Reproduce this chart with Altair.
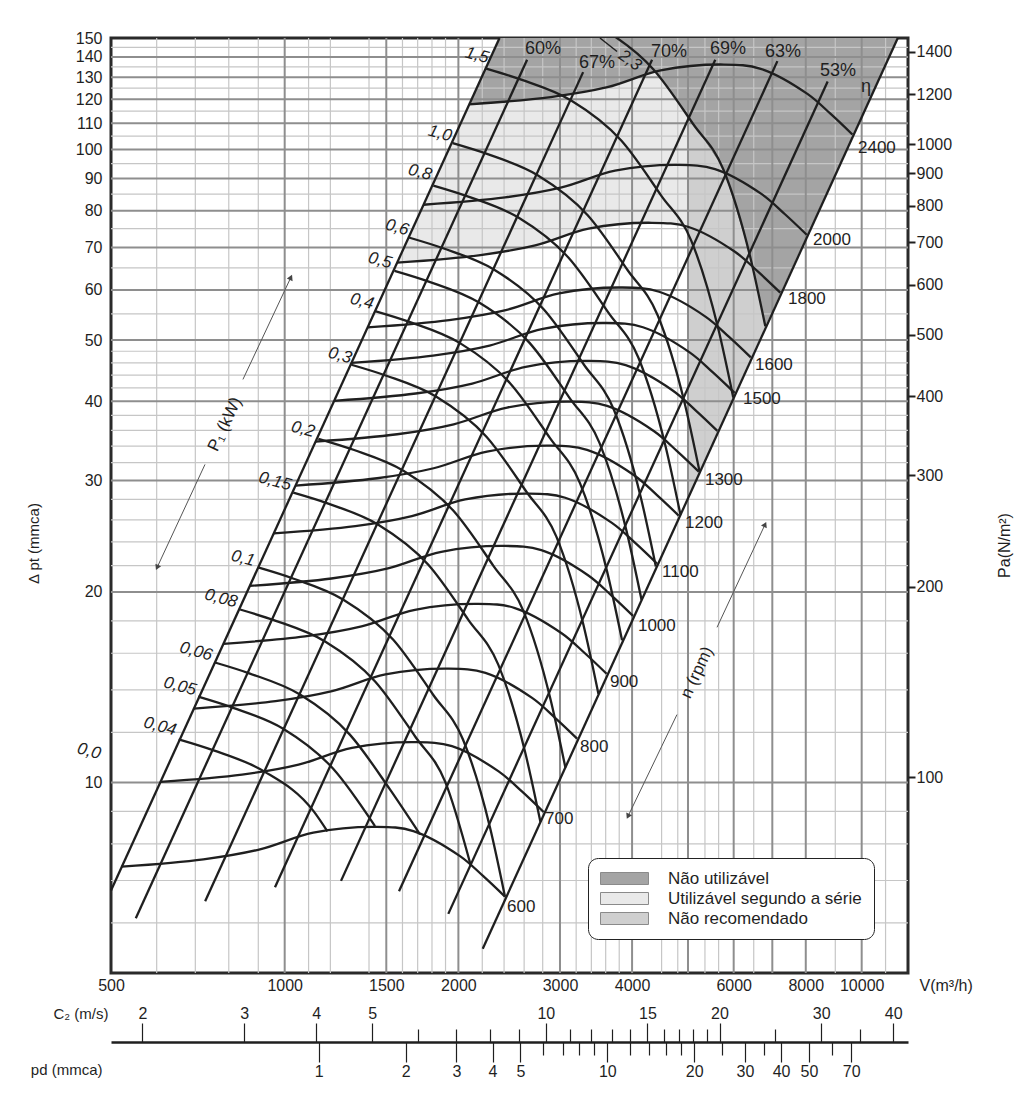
import altair as alt
import pandas as pd

FONT = "Liberation Sans"
INK = "#1f1f1f"

# ---------------- axes ----------------
V_DOMAIN = [500, 12030]
P_DOMAIN = [5, 150]
PA_DOMAIN = [49.05, 1471.5]
C2_DOMAIN = [1.764, 42.43]
PD_DOMAIN = [0.1904, 110.2]

X_LABELS = [500, 1000, 1500, 2000, 3000, 4000, 6000, 8000, 10000]
Y_LABELS = [10, 20, 30, 40, 50, 60, 70, 80, 90, 100, 110, 120, 130, 140, 150]
PA_LABELS = [100, 200, 300, 400, 500, 600, 700, 800, 900, 1000, 1200, 1400]
C2_MAJOR = [2, 3, 4, 5, 10, 15, 20, 30, 40]
C2_MINOR = [6, 7, 8, 9, 11, 12, 13, 14, 16, 17, 18, 19, 25, 35]
PD_MAJOR = [1, 2, 3, 4, 5, 10, 20, 30, 40, 50, 70]
PD_MINOR = [6, 7, 8, 9, 12, 14, 16, 18, 25, 35, 60]

GRID_V_MAJOR = [1000, 1500, 2000, 3000, 4000, 5000, 6000, 7000, 8000, 10000]
GRID_V_MINOR = [600, 700, 800, 900, 1100, 1200, 1400, 1600, 1700, 1800, 1900,
                2200, 2400, 2600, 2800, 3200, 3400, 3600, 3800, 4500, 4800,
                5350, 5650, 6500, 9000, 11000]
GRID_P_MAJOR = [10, 20, 30, 40, 50, 60, 70, 80, 90, 100, 110, 120, 130, 140]
GRID_P_MINOR = [6, 7, 8, 9, 12, 14, 16, 18, 22, 24, 26, 28, 32, 34, 36, 38,
                42, 44, 46, 48, 55, 65, 75, 85, 95, 105, 115, 125, 135, 145]

# ---------------- fan speed curves n (rpm): V [m3/h], P [mmca] ----------------
N600_V = [522, 723, 906, 1121, 1443, 1671, 2013, 2209, 2409]
N600_P = [7.36, 7.56, 7.84, 8.33, 8.51, 8.38, 7.65, 7.11, 6.60]
N700_V = [609, 843.5, 1057, 1308, 1683.5, 1949.5, 2348.5, 2577, 2810.5]
N700_P = [10.02, 10.29, 10.67, 11.34, 11.58, 11.41, 10.41, 9.68, 8.98]
N800_V = [696, 964, 1208, 1495, 1924, 2228, 2684, 2945, 3212]
N800_P = [13.08, 13.44, 13.94, 14.81, 15.13, 14.90, 13.60, 12.64, 11.73]
N900_V = [783, 1084.5, 1359, 1681.5, 2164.5, 2506.5, 3019.5, 3313.5, 3613.5]
N900_P = [16.56, 17.01, 17.64, 18.74, 19.15, 18.86, 17.21, 16.00, 14.85]
N1000_V = [870, 1205, 1510, 1868, 2405, 2785, 3355, 3682, 4015]
N1000_P = [20.44, 21.00, 21.78, 23.14, 23.64, 23.28, 21.25, 19.75, 18.33]
N1100_V = [957, 1325.5, 1661, 2055, 2645.5, 3063.5, 3690.5, 4050, 4416.5]
N1100_P = [24.74, 25.41, 26.35, 28.00, 28.60, 28.17, 25.71, 23.90, 22.18]
N1200_V = [1044, 1446, 1812, 2242, 2886, 3342, 4026, 4418, 4818]
N1200_P = [29.44, 30.24, 31.36, 33.32, 34.04, 33.52, 30.60, 28.44, 26.40]
N1300_V = [1131, 1566.5, 1963, 2429, 3126.5, 3620.5, 4361.5, 4786, 5219.5]
N1300_P = [34.55, 35.49, 36.80, 39.10, 39.95, 39.34, 35.91, 33.38, 30.98]
N1400_V = [1218, 1687, 2114, 2616, 3367, 3899, 4697, 5154, 5621]
N1400_P = [40.07, 41.16, 42.68, 45.35, 46.33, 45.62, 41.65, 38.71, 35.93]
N1500_V = [1305, 1807.5, 2265, 2802.5, 3607.5, 4177.5, 5032.5, 5522.5, 6022.5]
N1500_P = [46.00, 47.25, 49.00, 52.06, 53.19, 52.38, 47.81, 44.44, 41.25]
N1600_V = [1392, 1928, 2416, 2989, 3848, 4456, 5368, 5891, 6424]
N1600_P = [52.34, 53.76, 55.75, 59.24, 60.52, 59.59, 54.40, 50.56, 46.93]
N1800_V = [1566, 2169, 2718, 3363, 4329, 5013, 6039, 6627, 7227]
N1800_P = [66.24, 68.04, 70.56, 74.97, 76.59, 75.42, 68.85, 63.99, 59.40]
N2000_V = [1740, 2410, 3020, 3737, 4810, 5570, 6710, 7363, 8030]
N2000_P = [81.78, 84.00, 87.11, 92.56, 94.56, 93.11, 85.00, 79.00, 73.33]
N2400_V = [2088, 2892, 3624, 4484, 5772, 6684, 8052, 8836, 9636]
N2400_P = [117.8, 121.0, 125.4, 133.3, 136.2, 134.1, 122.4, 113.8, 105.6]

# ---------------- shaft power curves P1 (kW) ----------------
KW004_V = [655, 753, 919.5, 1123, 1186]
KW004_P = [11.70, 11.24, 10.42, 9.00, 8.37]
KW005_V = [708, 814, 994, 1213.5, 1434]
KW005_P = [13.66, 13.12, 12.16, 10.51, 8.53]
KW006_V = [757, 870.5, 1063, 1297, 1522, 1716]
KW006_P = [15.47, 14.86, 13.77, 11.90, 9.75, 8.28]
KW008_V = [837, 962.5, 1175, 1434.5, 1683, 1897, 2101]
KW008_P = [18.76, 18.02, 16.70, 14.44, 11.82, 10.03, 7.40]
KW01_V = [899, 1033.8, 1262, 1541, 1807, 2037, 2269, 2409]
KW01_P = [21.86, 21.00, 19.46, 16.82, 13.77, 11.69, 8.49, 6.60]
KW015_V = [1035, 1190, 1453, 1774, 2081, 2345, 2612, 2774]
KW015_P = [28.69, 27.57, 25.54, 22.08, 18.07, 15.35, 11.14, 8.67]
KW02_V = [1144, 1315.5, 1606, 1961, 2300, 2592, 2887, 3066]
KW02_P = [34.91, 33.54, 31.08, 26.86, 21.99, 18.67, 13.56, 10.55]
KW03_V = [1305, 1500.6, 1832, 2237, 2624, 2957, 3294, 3497]
KW03_P = [45.70, 43.91, 40.68, 35.17, 28.79, 24.45, 17.75, 13.81]
KW04_V = [1434, 1649, 2013, 2458, 2883, 3249, 3619, 3843]
KW04_P = [55.54, 53.36, 49.44, 42.74, 34.99, 29.71, 21.57, 16.78]
KW05_V = [1550, 1782, 2176, 2657, 3116, 3512, 3912, 4154]
KW05_P = [64.30, 61.78, 57.24, 49.48, 40.51, 34.39, 24.97, 19.43]
KW06_V = [1641, 1887, 2304, 2813, 3299, 3718.5, 4142, 4398]
KW06_P = [72.60, 69.75, 64.63, 55.87, 45.74, 38.83, 28.20, 21.94]
KW08_V = [1810, 2081, 2541, 3102, 3639, 4101, 4568, 4851]
KW08_P = [87.70, 84.26, 78.07, 67.49, 55.25, 46.91, 34.06, 26.50]
KW10_V = [1955, 2248, 2744, 3351, 3930.5, 4430, 4934, 5239]
KW10_P = [102.3, 98.29, 91.07, 78.72, 64.45, 54.72, 39.73, 30.92]
KW15_V = [2235, 2570, 3137, 3831, 4493, 5065, 5641, 5990]
KW15_P = [134.2, 128.9, 119.5, 103.3, 84.55, 71.78, 52.12, 40.56]
KW23_V = [2540, 2921, 3566, 4353, 5107, 5756, 6411, 6807]
KW23_P = [174.0, 167.2, 154.9, 133.9, 109.6, 93.07, 67.58, 52.58]

# ---------------- efficiency lines (system parabolas) ----------------
ETA_LEFT_V = [500, 2357]
ETA_LEFT_P = [6.75, 150]
ETA60_V = [552, 2631]
ETA60_P = [6.10, 138.6]
ETA67_V = [728, 3290]
ETA67_P = [6.49, 132.5]
ETA70_V = [962, 4332]
ETA70_P = [6.83, 138.6]
ETA69_V = [1252, 5575]
ETA69_P = [6.99, 138.6]
ETA63_V = [1578, 7143]
ETA63_P = [6.73, 137.9]
ETA53_V = [1921, 8730]
ETA53_P = [6.20, 128.0]
ETA_RIGHT_V = [2204, 11550]
ETA_RIGHT_P = [5.46, 150]

# ---------------- shaded zones ----------------
REGIONS = ["Não utilizável", "Utilizável segundo a série", "Não recomendado"]
REGION_COLORS = ["#a4a4a4", "#e9e9e9", "#cfcfcf"]
DARK_V = [2357, 2088, 2892, 3624, 4400, 5107, 5756, 6411, 6807, 11550]
DARK_P = [150, 117.8, 121.0, 125.4, 132.5, 109.6, 93.07, 67.58, 52.58, 150]
LIGHT_V = [1566, 2088, 2892, 3624, 4400, 5000, 5000, 4329, 3363, 2718, 2169, 1566]
LIGHT_P = [66.24, 117.8, 121.0, 125.4, 132.5, 112.6, 75.44, 76.59, 74.97, 70.56, 68.04, 66.24]
MED_V = [5000, 5107, 5756, 6411, 6807, 5000]
MED_P = [112.6, 109.6, 93.07, 67.58, 52.58, 28.11]

# ---------------- labels ----------------
RPM_TEXT = ["600", "700", "800", "900", "1000", "1100", "1200", "1300", "1500", "1600", "1800", "2000", "2400"]
RPM_TEXT_V = [2428, 2826, 3250, 3662, 4095, 4508, 4941, 5350, 6227, 6533, 7452, 8235, 9854]
RPM_TEXT_P = [6.35, 8.74, 11.36, 14.39, 17.64, 21.47, 25.66, 30.10, 40.29, 45.59, 57.95, 72.07, 100.7]

ETA_TEXT = ["60%", "67%", "70%", "69%", "63%", "53%", "η"]
ETA_TEXT_V = [2804, 3477, 4636, 5866, 7303, 9100, 10175]
ETA_TEXT_P = [143.9, 137.2, 142.8, 143.9, 142.8, 132.8, 125.3]

KW_TEXT = ["0,0", "0,04", "0,05", "0,06", "0,08", "0,1", "0,15", "0,2", "0,3", "0,4", "0,5", "0,6", "0,8", "1,0", "1,5"]
KW_TEXT_V = [458, 608, 658.6, 702, 775.5, 846.5, 962, 1076, 1247, 1361, 1463, 1566, 1716, 1858, 2154]
KW_TEXT_P = [11.2, 12.26, 14.18, 16.1, 19.53, 22.59, 29.89, 36.12, 47.27, 57.54, 66.77, 75.3, 91.99, 106.0, 140.8]
KW23_TEXT_V = [3967]
KW23_TEXT_P = [138.2]

NOTE_TEXT = ["P₁ (kW)", "n (rpm)"]
NOTE_V = [788, 5183]
NOTE_P = [36.79, 14.92]

ARROW_ID = ["p_up", "p_up", "p_dn", "p_dn", "n_up", "n_up", "n_dn", "n_dn"]
ARROW_V = [846.5, 1025, 727.6, 601, 5614, 6800, 4785, 3935]
ARROW_P = [43.32, 62.8, 31.8, 21.86, 17.58, 25.56, 12.8, 8.84]
HEAD_V = [1025, 601, 6800, 3935]
HEAD_P = [62.8, 21.86, 25.56, 8.84]
HEAD_ANGLE = [25, 205, 25, 205]
LEADER_V = [3519, 3767]
LEADER_P = [150, 142.8]

# ---------------- build tables ----------------
def long_table(series, key):
    rows = []
    for name, vs, ps in series:
        for i, (v, p) in enumerate(zip(vs, ps)):
            rows.append({key: name, "i": i, "V": v, "P": p})
    return pd.DataFrame(rows)

speed_df = long_table([
    (600, N600_V, N600_P), (700, N700_V, N700_P), (800, N800_V, N800_P),
    (900, N900_V, N900_P), (1000, N1000_V, N1000_P), (1100, N1100_V, N1100_P),
    (1200, N1200_V, N1200_P), (1300, N1300_V, N1300_P), (1400, N1400_V, N1400_P),
    (1500, N1500_V, N1500_P), (1600, N1600_V, N1600_P), (1800, N1800_V, N1800_P),
    (2000, N2000_V, N2000_P), (2400, N2400_V, N2400_P)], "n")

power_df = long_table([
    ("0.04", KW004_V, KW004_P), ("0.05", KW005_V, KW005_P), ("0.06", KW006_V, KW006_P),
    ("0.08", KW008_V, KW008_P), ("0.1", KW01_V, KW01_P), ("0.15", KW015_V, KW015_P),
    ("0.2", KW02_V, KW02_P), ("0.3", KW03_V, KW03_P), ("0.4", KW04_V, KW04_P),
    ("0.5", KW05_V, KW05_P), ("0.6", KW06_V, KW06_P), ("0.8", KW08_V, KW08_P),
    ("1.0", KW10_V, KW10_P), ("1.5", KW15_V, KW15_P), ("2.3", KW23_V, KW23_P)], "kw")

eta_df = long_table([
    ("left", ETA_LEFT_V, ETA_LEFT_P), ("60", ETA60_V, ETA60_P), ("67", ETA67_V, ETA67_P),
    ("70", ETA70_V, ETA70_P), ("69", ETA69_V, ETA69_P), ("63", ETA63_V, ETA63_P),
    ("53", ETA53_V, ETA53_P), ("right", ETA_RIGHT_V, ETA_RIGHT_P)], "line")

# ---------------- scales / axes ----------------
xs = alt.Scale(type="log", domain=V_DOMAIN, nice=False)
ys = alt.Scale(type="log", domain=P_DOMAIN, nice=False)

x_axis = alt.Axis(values=X_LABELS, format="d", grid=False, domain=False, ticks=False, tickSize=0,
                  labelFont=FONT, labelFontSize=16, labelColor=INK, labelPadding=4,
                  labelFlush=False, labelOverlap=False,
                  title="V(m³/h)", titleFont=FONT, titleFontSize=16, titleFontWeight="normal",
                  titleColor=INK, titleAngle=0, titleX=808, titleY=12,
                  titleAlign="left", titleBaseline="middle")
y_axis = alt.Axis(values=Y_LABELS, format="d", grid=False, domain=False, ticks=False, tickSize=0,
                  labelFont=FONT, labelFontSize=16, labelColor=INK, labelPadding=9,
                  labelFlush=False, labelOverlap=False,
                  title="Δ pt (mmca)", titleFont=FONT, titleFontSize=15, titleFontWeight="normal",
                  titleColor=INK, titleAngle=270, titleX=-78, titleY=505,
                  titleAlign="center", titleBaseline="middle")

X = alt.X("V:Q", scale=xs, axis=x_axis)
Y = alt.Y("P:Q", scale=ys, axis=y_axis)


def poly(vs, ps, color):
    df = pd.DataFrame({"V": vs, "P": ps, "i": list(range(len(vs)))})
    return alt.Chart(df).mark_line(fill=color, strokeWidth=0, strokeOpacity=0).encode(
        x=X, y=Y, order=alt.Order("i:Q"))


dark = poly(DARK_V, DARK_P, REGION_COLORS[0])
light = poly(LIGHT_V, LIGHT_P, REGION_COLORS[1])
med = poly(MED_V, MED_P, REGION_COLORS[2])

grid_vmin = alt.Chart(pd.DataFrame({"V": GRID_V_MINOR})).mark_rule(color="#c6c6c6", strokeWidth=1.2).encode(x=X)
grid_pmin = alt.Chart(pd.DataFrame({"P": GRID_P_MINOR})).mark_rule(color="#c6c6c6", strokeWidth=1.2).encode(y=Y)
grid_vmaj = alt.Chart(pd.DataFrame({"V": GRID_V_MAJOR})).mark_rule(color="#8e8e8e", strokeWidth=2).encode(x=X)
grid_pmaj = alt.Chart(pd.DataFrame({"P": GRID_P_MAJOR})).mark_rule(color="#8e8e8e", strokeWidth=2).encode(y=Y)

eta_lines = alt.Chart(eta_df).mark_line(color=INK, strokeWidth=2.3).encode(
    x=X, y=Y, detail="line:N", order=alt.Order("i:Q"))
speed_lines = alt.Chart(speed_df).mark_line(color=INK, strokeWidth=2.3, interpolate="catmull-rom").encode(
    x=X, y=Y, detail="n:N", order=alt.Order("i:Q"))
power_lines = alt.Chart(power_df).mark_line(color=INK, strokeWidth=2.3, interpolate="monotone", clip=True).encode(
    x=X, y=Y, detail="kw:N", order=alt.Order("i:Q"))

arrows = alt.Chart(pd.DataFrame({"id": ARROW_ID, "V": ARROW_V, "P": ARROW_P})).mark_line(
    color="#555555", strokeWidth=1).encode(x=X, y=Y, detail="id:N")
heads = alt.Chart(pd.DataFrame({"V": HEAD_V, "P": HEAD_P, "a": HEAD_ANGLE})).mark_point(
    shape="triangle-up", filled=True, color="#444444", size=40, opacity=1).encode(
    x=X, y=Y, angle=alt.Angle("a:Q", scale=None))
leader = alt.Chart(pd.DataFrame({"V": LEADER_V, "P": LEADER_P})).mark_line(
    color=INK, strokeWidth=1.5).encode(x=X, y=Y)

rpm_text = alt.Chart(pd.DataFrame({"V": RPM_TEXT_V, "P": RPM_TEXT_P, "t": RPM_TEXT})).mark_text(
    align="left", baseline="middle", font=FONT, fontSize=17, color=INK).encode(x=X, y=Y, text="t:N")
eta_text = alt.Chart(pd.DataFrame({"V": ETA_TEXT_V, "P": ETA_TEXT_P, "t": ETA_TEXT})).mark_text(
    align="center", baseline="middle", font=FONT, fontSize=18, color=INK).encode(x=X, y=Y, text="t:N")
kw_text = alt.Chart(pd.DataFrame({"V": KW_TEXT_V, "P": KW_TEXT_P, "t": KW_TEXT})).mark_text(
    align="center", baseline="middle", font=FONT, fontSize=17, fontStyle="italic", angle=15,
    color=INK).encode(x=X, y=Y, text="t:N")
kw23_text = alt.Chart(pd.DataFrame({"V": KW23_TEXT_V, "P": KW23_TEXT_P, "t": ["2,3"]})).mark_text(
    align="center", baseline="middle", font=FONT, fontSize=17, fontStyle="italic", angle=35,
    color=INK).encode(x=X, y=Y, text="t:N")
note_text = alt.Chart(pd.DataFrame({"V": NOTE_V, "P": NOTE_P, "t": NOTE_TEXT})).mark_text(
    align="center", baseline="middle", font=FONT, fontSize=17, angle=295,
    color=INK).encode(x=X, y=Y, text="t:N")

legend_dummy = alt.Chart(pd.DataFrame({"V": [100, 100, 100], "P": [1, 1, 1], "zone": REGIONS})).mark_point(
    filled=True, size=10, clip=True, opacity=1).encode(
    x=X, y=Y,
    color=alt.Color("zone:N", scale=alt.Scale(domain=REGIONS, range=REGION_COLORS),
                    legend=alt.Legend(orient="none", legendX=477, legendY=820, title=None,
                                      direction="vertical", padding=12, cornerRadius=10,
                                      strokeColor="#222222", fillColor="white",
                                      labelFont=FONT, labelFontSize=17, labelColor=INK,
                                      labelLimit=400, labelOffset=51, rowPadding=2,
                                      symbolType="M-1,-0.75H5V0.75H-1Z", symbolSize=256,
                                      symbolStrokeColor="#8a8a8a", symbolStrokeWidth=1,
                                      symbolOpacity=1)))

main = alt.layer(dark, light, med, grid_vmin, grid_pmin, grid_vmaj, grid_pmaj,
                 eta_lines, speed_lines, power_lines, arrows, heads, leader,
                 rpm_text, eta_text, kw_text, kw23_text, note_text, legend_dummy)

# ---------------- secondary scales ----------------
pa_layer = alt.Chart(pd.DataFrame({"Pa": PA_LABELS})).mark_point(opacity=0).encode(
    y=alt.Y("Pa:Q", scale=alt.Scale(type="log", domain=PA_DOMAIN, nice=False),
            axis=alt.Axis(orient="right", values=PA_LABELS, format="d", grid=False, domain=False,
                          tickSize=7, tickWidth=2, tickColor=INK, labelPadding=1,
                          labelFont=FONT, labelFontSize=16, labelColor=INK,
                          labelFlush=False, labelOverlap=False,
                          title="Pa(N/m²)", titleFont=FONT, titleFontSize=16,
                          titleFontWeight="normal", titleColor=INK, titleAngle=270,
                          titleX=96, titleY=507, titleAlign="center", titleBaseline="middle")))

c2_major = alt.Chart(pd.DataFrame({"C2": C2_MAJOR})).mark_point(opacity=0).encode(
    x=alt.X("C2:Q", scale=alt.Scale(type="log", domain=C2_DOMAIN, nice=False),
            axis=alt.Axis(orient="top", offset=-1004, values=C2_MAJOR, format="d", grid=False,
                          domain=True, domainColor=INK, domainWidth=2.5,
                          tickSize=19, tickWidth=1.2, tickColor=INK, labelPadding=2,
                          labelFont=FONT, labelFontSize=16, labelColor=INK,
                          labelFlush=False, labelOverlap=False,
                          title="C₂ (m/s)", titleFont=FONT, titleFontSize=15,
                          titleFontWeight="normal", titleColor=INK, titleAngle=0,
                          titleX=-3, titleY=-29, titleAlign="right", titleBaseline="middle")))
c2_minor = alt.Chart(pd.DataFrame({"C2m": C2_MINOR})).mark_point(opacity=0).encode(
    x=alt.X("C2m:Q", scale=alt.Scale(type="log", domain=C2_DOMAIN, nice=False),
            axis=alt.Axis(orient="top", offset=-1004, values=C2_MINOR, grid=False,
                          domain=False, labels=False, tickSize=13, tickWidth=1.2,
                          tickColor=INK, title=None)))
pd_major = alt.Chart(pd.DataFrame({"pdv": PD_MAJOR})).mark_point(opacity=0).encode(
    x=alt.X("pdv:Q", scale=alt.Scale(type="log", domain=PD_DOMAIN, nice=False),
            axis=alt.Axis(orient="bottom", offset=69, values=PD_MAJOR, format="d", grid=False,
                          domain=False, tickSize=20, tickWidth=1.2, tickColor=INK,
                          labelPadding=1, labelFont=FONT, labelFontSize=16, labelColor=INK,
                          labelFlush=False, labelOverlap=False,
                          title="pd (mmca)", titleFont=FONT, titleFontSize=15,
                          titleFontWeight="normal", titleColor=INK, titleAngle=0,
                          titleX=-9, titleY=27, titleAlign="right", titleBaseline="middle")))
pd_minor = alt.Chart(pd.DataFrame({"pdm": PD_MINOR})).mark_point(opacity=0).encode(
    x=alt.X("pdm:Q", scale=alt.Scale(type="log", domain=PD_DOMAIN, nice=False),
            axis=alt.Axis(orient="bottom", offset=69, values=PD_MINOR, grid=False,
                          domain=False, labels=False, tickSize=13, tickWidth=1.2,
                          tickColor=INK, title=None)))

chart = alt.layer(main, pa_layer, c2_major, c2_minor, pd_major, pd_minor).resolve_scale(
    x="independent", y="independent"
).properties(
    width=797, height=935,
    padding={"left": 103, "top": 30, "right": 108, "bottom": 110},
    autosize=alt.AutoSizeParams(type="none"),
    background="white",
).configure_view(stroke="#2a2a2a", strokeWidth=3)

chart.save("out.html", embed_options={"renderer": "svg", "actions": False})
